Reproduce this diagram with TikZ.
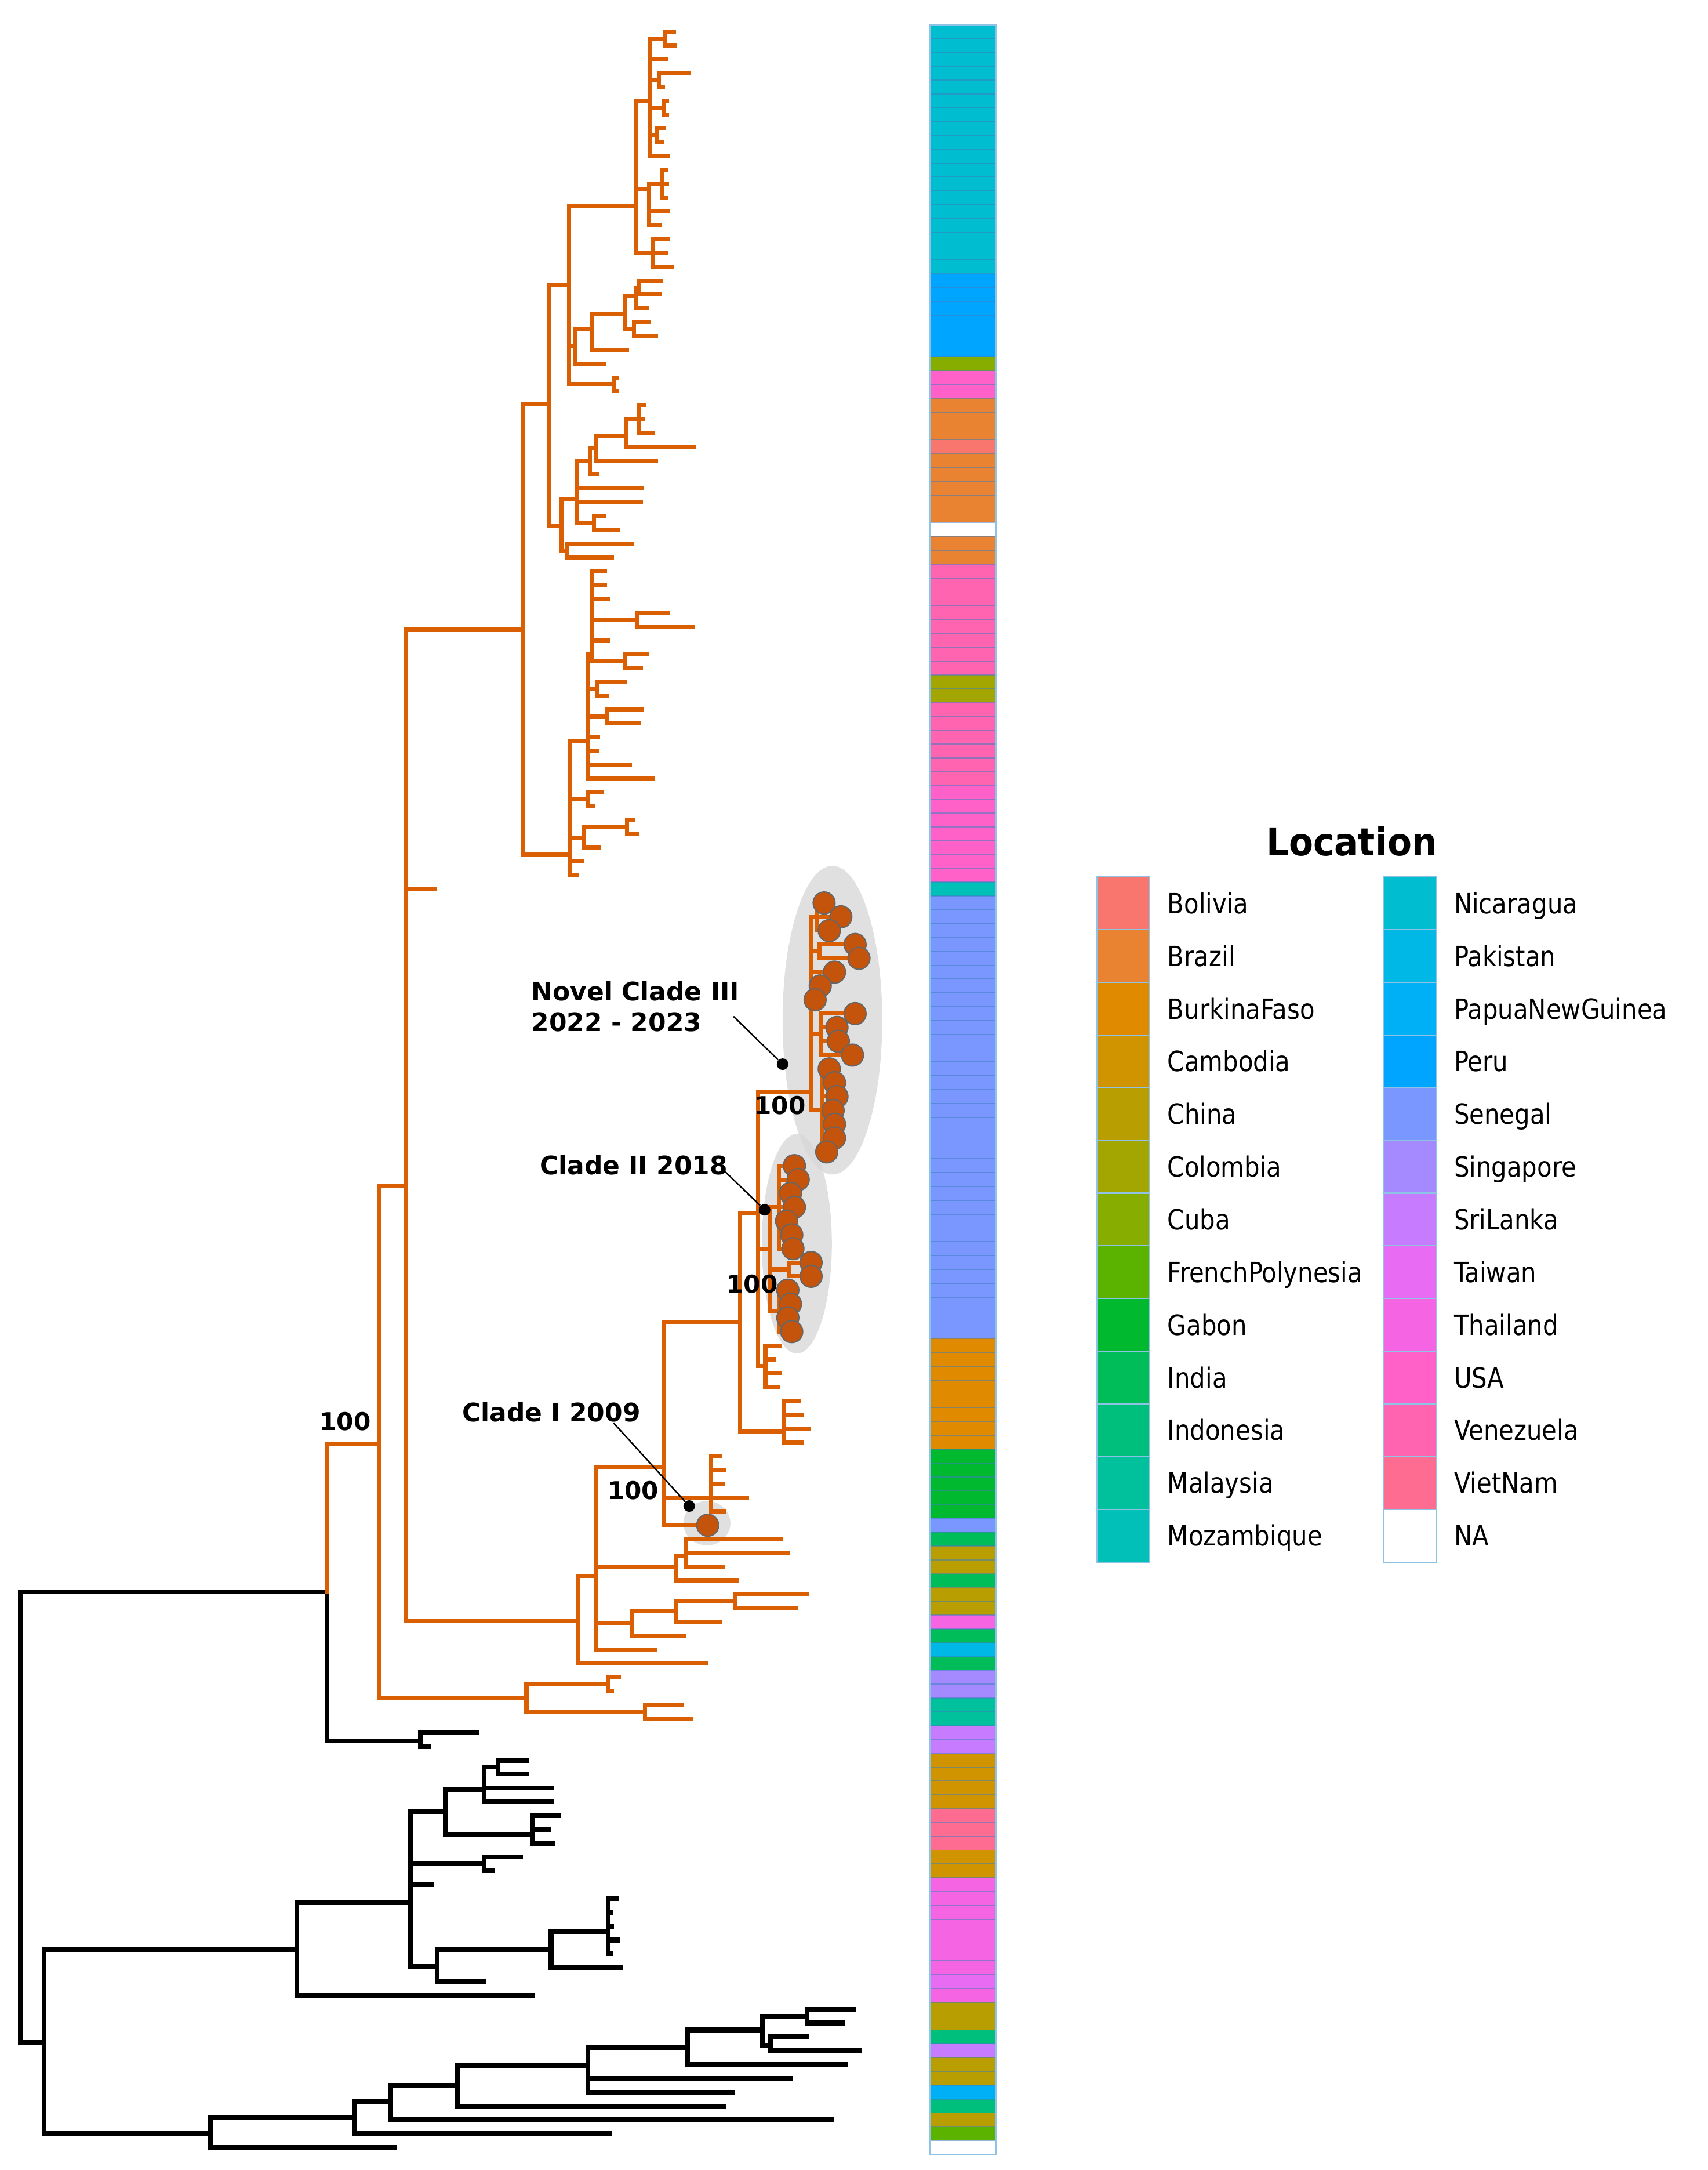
\documentclass[tikz,border=0pt]{standalone}
\usepackage{fontspec}
\setmainfont{DejaVu Sans}
\usetikzlibrary{positioning}

\definecolor{cBolivia}{HTML}{F8766D}
\definecolor{cBrazil}{HTML}{EA8331}
\definecolor{cBurkinaFaso}{HTML}{E08A00}
\definecolor{cCambodia}{HTML}{CF9400}
\definecolor{cChina}{HTML}{B89E00}
\definecolor{cColombia}{HTML}{A3A500}
\definecolor{cCuba}{HTML}{86AD00}
\definecolor{cFrenchPolynesia}{HTML}{5BB300}
\definecolor{cGabon}{HTML}{00B92E}
\definecolor{cIndia}{HTML}{00BC59}
\definecolor{cIndonesia}{HTML}{00BF7D}
\definecolor{cMalaysia}{HTML}{00C19C}
\definecolor{cMozambique}{HTML}{00C0B8}
\definecolor{cNicaragua}{HTML}{00BDD0}
\definecolor{cPakistan}{HTML}{00B8E5}
\definecolor{cPapuaNewGuinea}{HTML}{00B0F6}
\definecolor{cPeru}{HTML}{00A5FF}
\definecolor{cSenegal}{HTML}{7997FF}
\definecolor{cSingapore}{HTML}{A58AFF}
\definecolor{cSriLanka}{HTML}{C77CFF}
\definecolor{cTaiwan}{HTML}{E76BF3}
\definecolor{cThailand}{HTML}{F564E3}
\definecolor{cUSA}{HTML}{FF61C9}
\definecolor{cVenezuela}{HTML}{FF64B0}
\definecolor{cVietNam}{HTML}{FF6C91}
\definecolor{cNA}{HTML}{FFFFFF}
\definecolor{branch}{HTML}{D95F02}
\definecolor{tipfill}{HTML}{C4540C}
\definecolor{rowline}{HTML}{3F7FC0}
\definecolor{frameblue}{HTML}{8FC3E6}

% one internal node: x, row, list of child x/row
\newcommand{\clade}[3]{\foreach \cx/\cr in {#3}{\draw (#1,#2) |- (\cx,\cr);}}

\begin{document}
\begin{tikzpicture}[x=0.2387mm, y=-0.2387mm,
    rowgrid/.style={y=-2.3844mm, yshift=-5.490mm},
    orangebranch/.style={branch, line width=2pt, line cap=rect},
    blackbranch/.style={black, line width=2.3pt, line cap=rect},
    cladeshade/.style={fill=black!16, fill opacity=0.75},
    tipdot/.style={fill=tipfill, draw=black!60, line width=0.6pt},
    rowsep/.style={draw=rowline, draw opacity=0.55, line width=0.5pt},
    pointer/.style={draw=black, line width=0.7pt},
    knot/.style={circle, fill=black, inner sep=0pt, minimum size=2mm},
    cladelabel/.style={font=\bfseries\fontsize{12.5}{15}\selectfont, inner sep=0pt, anchor=base west},
    support/.style={font=\bfseries\fontsize{12}{14}\selectfont, inner sep=0pt, anchor=base},
    legbox/.style={draw=frameblue, line width=0.6pt, minimum width=9.07mm, minimum height=9.09mm, inner sep=0pt},
    leglabel/.style={font=\fontsize{11.9}{14}\selectfont, inner sep=0pt, anchor=west, text height=8.68pt, text depth=0pt, transform shape, yscale=1.15}]
    \useasboundingbox (0,0) rectangle (1234.2,1567.7);

    %Clade shading
    \fill[cladeshade] (601.5,737) ellipse [x radius=36, y radius=111.5];
    \fill[cladeshade] (575.8,898.5) ellipse [x radius=25.3, y radius=79.3];
    \fill[cladeshade] (510.8,1100.4) ellipse [x radius=17, y radius=16];

    \begin{scope}[rowgrid]
    %Strip
    \foreach \c/\a/\b in {Nicaragua/0/18, Peru/18/24, Cuba/24/25, USA/25/27, Brazil/27/30, Bolivia/30/31,
        Brazil/31/36, NA/36/37, Brazil/37/39, Venezuela/39/47, Colombia/47/49, Venezuela/49/55, USA/55/62,
        Mozambique/62/63, Senegal/63/95, BurkinaFaso/95/103, Gabon/103/108, Senegal/108/109, India/109/110,
        China/110/112, India/112/113, China/113/115, Thailand/115/116, India/116/117, Pakistan/117/118,
        India/118/119, Singapore/119/121, Malaysia/121/123, SriLanka/123/125, Cambodia/125/129,
        VietNam/129/132, Cambodia/132/134, Thailand/134/141, Taiwan/141/142, Thailand/142/143,
        China/143/145, Indonesia/145/146, SriLanka/146/147, China/147/149, PapuaNewGuinea/149/150,
        Indonesia/150/151, China/151/152, FrenchPolynesia/152/153, NA/153/154}
        {\fill[c\c] (672,\a-0.5) rectangle (720,\b-0.5);}
    \foreach \i in {1,...,153} \draw[rowsep] (672,\i-0.5) -- (720,\i-0.5);
    \draw[frameblue, line width=0.8pt] (672,-0.5) rectangle (720,153.5);

    %Outgroup
    \begin{scope}[blackbranch]
    \draw (14.5,129) |- (236.3,112.8);
    \draw (14.5,129) |- (32,145.4);
    \clade{236.3}{112.8}{303.7/123.6}
    \clade{303.7}{123.6}{344.8/123, 310/124}
    \clade{32}{145.4}{214.4/138.7, 152.3/152}
    \clade{214.4}{138.7}{296.8/135.3, 385/142}
    \clade{296.8}{135.3}{321.8/128.7, 349.7/132.5, 311.5/134, 316/139.9}
    \clade{321.8}{128.7}{349.7/127.1, 385/130.4}
    \clade{349.7}{127.1}{360/125.5, 398.2/127, 398.2/128}
    \clade{360}{125.5}{380.6/125, 380.6/126}
    \clade{385}{130.4}{404/129, 396.7/130, 399.7/131}
    \clade{349.7}{132.5}{376.2/132, 355.6/133}
    \clade{316}{139.9}{398.2/138.7, 349.7/141}
    \clade{398.2}{138.7}{439.4/137.4, 448.2/140}
    \clade{439.4}{137.4}{445.2/135, 441/136, 442/137, 446.7/138, 441/139}
    \clade{152.3}{152}{256.5/150.8, 285.3/153}
    \clade{256.5}{150.8}{282.5/149.7, 440.8/152}
    \clade{282.5}{149.7}{330.6/148.5, 601.2/151}
    \clade{330.6}{148.5}{424.8/147.1, 523/150}
    \clade{424.8}{147.1}{497/145.8, 571/148, 529/149}
    \clade{497}{145.8}{551/144.5, 611/147}
    \clade{551}{144.5}{583/143.5, 557/145.6}
    \clade{583}{143.5}{617/143, 609/144}
    \clade{557}{145.6}{583/145, 621/146}
    \end{scope}

    %Ingroup
    \begin{scope}[orangebranch]
    \draw (236.3,112.8) |- (273.6,102.1);
    \clade{273.6}{102.1}{293.6/83.5, 380.4/120.5}
    \clade{293.6}{83.5}{378/43.2, 314/62, 417.9/114.9}
    \clade{378}{43.2}{397/26.9, 411.9/59.5}
    \clade{397}{26.9}{411.3/18.3, 405.6/35.75}
    % Nicaragua, Peru
    \clade{411.3}{18.3}{459.5/12.6, 415.4/22.7, 444/25.5}
    \clade{459.5}{12.6}{470/5, 469/11.4, 472/16}
    \clade{470}{5}{480.5/0.5, 481.5/2, 476/3.5, 480/5.5, 474.7/7.5, 483/9}
    \clade{480.5}{0.5}{487/0, 487.5/1}
    \clade{476}{3.5}{498/3, 479/4}
    \clade{480}{5.5}{482/5, 482/6}
    \clade{474.7}{7.5}{480/7, 478.6/8}
    \clade{469}{11.4}{478.7/11, 483/13, 477/14}
    \clade{478.7}{11}{481/10, 482/11, 481/12}
    \clade{472}{16}{482.5/15, 481.5/16, 485.5/17}
    \clade{415.4}{22.7}{428/21.5, 436.4/24}
    \clade{428}{21.5}{451.7/20.4, 453/23}
    \clade{451.7}{20.4}{459.5/19.1, 458/21.5}
    \clade{459.5}{19.1}{462/18.5, 467.8/20}
    \clade{462}{18.5}{477.6/18, 476.9/19}
    \clade{458}{21.5}{468.5/21, 474/22}
    \clade{444}{25.5}{446/25, 446/26}
    % Brazil, Bolivia
    \clade{405.6}{35.75}{416.8/33.8, 409.8/37.5}
    \clade{416.8}{33.8}{426.3/31, 464/33, 463/34, 429.4/35.5}
    \clade{426.3}{31}{430.8/30.1, 431.5/32}
    \clade{430.8}{30.1}{452.4/29.2, 474/31}
    \clade{452.4}{29.2}{461.5/28, 501.3/30}
    \clade{461.5}{28}{465.7/27, 464.2/28, 472/29}
    \clade{429.4}{35.5}{436.4/35, 446.9/36}
    \clade{409.8}{37.5}{456.7/37, 442/38}
    % Venezuela, Colombia, USA
    \clade{411.9}{59.5}{425.2/51.3, 425.2/55.5, 421.7/58.3, 420.3/60, 416.8/61}
    \clade{425.2}{51.3}{428/45, 431.5/47.5, 439/49.5, 432.2/51, 431.5/52, 455.2/53, 472/54}
    \clade{428}{45}{437/39, 437/40, 439.1/41, 460.8/42.5, 439.1/44, 451.3/45.5}
    \clade{460.8}{42.5}{482.5/42, 500.6/43}
    \clade{451.3}{45.5}{467.8/45, 463/46}
    \clade{431.5}{47.5}{451.7/47, 439/48}
    \clade{439}{49.5}{463.6/49, 462/50}
    \clade{425.2}{55.5}{434.9/55, 428.6/56}
    \clade{421.7}{58.3}{453.1/57.5, 432.9/59}
    \clade{453.1}{57.5}{457.3/57, 460.8/58}
    % Senegal and the rest
    \clade{417.9}{114.9}{430.5/111.7, 510/118}
    \clade{430.5}{111.7}{479.3/103.8, 488.7/111, 456.6/115.1, 473.8/117}
    \clade{479.3}{103.8}{534.6/93.3, 514/106, 511.4/108}
    \clade{534.6}{93.3}{547.8/85.4, 566/101.2}
    \clade{547.8}{85.4}{586.1/76.7, 556/88, 553/96.5}
    \clade{586.1}{76.7}{590/64, 592/66.5, 603/68, 592.7/69, 589/70, 593/72.5, 594/78}
    \clade{590}{64}{595.5/63, 607.6/64, 599.2/65}
    \clade{592}{66.5}{617.9/66, 620.7/67}
    \clade{593}{72.5}{617.9/71, 604.8/72, 605.8/73, 616/74}
    \clade{594}{78}{599.2/75, 603/76, 604.8/77, 602/78, 603/79, 603/80, 597.4/81}
    \clade{556}{88}{563/85, 570/89.5, 563/92.5}
    \clade{563}{85}{574/82, 576.8/83, 571.2/84, 574/85, 568.4/86, 572.1/87, 573/88}
    \clade{570}{89.5}{586.1/89, 586.1/90}
    \clade{563}{92.5}{569.3/91, 571.2/92, 569.3/93, 572.1/94}
    \clade{553}{96.5}{563.7/95, 559/96, 563.7/97, 561.8/98}
    \clade{566}{101.2}{577/99, 579.4/100, 584.8/101, 579.4/102}
    \clade{514}{106}{520.7/103, 523.5/104, 522/105, 539.6/106, 523.5/107}
    \clade{488.7}{111}{495.4/110.2, 532.8/112}
    \clade{495.4}{110.2}{564.7/109, 569/110, 522/111}
    \clade{456.6}{115.1}{488.7/114.2, 494/116}
    \clade{488.7}{114.2}{531.5/113.5, 520.7/115}
    \clade{531.5}{113.5}{583.5/113, 575.5/114}
    \clade{380.4}{120.5}{439.3/119.5, 465.9/121.5}
    \clade{439.3}{119.5}{447.3/119, 442/120}
    \clade{465.9}{121.5}{492.7/121, 499.4/122}
    \end{scope}

    %Tip points
    \foreach \cx/\cr in {595.5/63, 607.6/64, 599.2/65, 617.9/66, 620.7/67, 603/68, 592.7/69, 589/70,
        617.9/71, 604.8/72, 605.8/73, 616/74, 599.2/75, 603/76, 604.8/77, 602/78, 603/79, 603/80, 597.4/81,
        574/82, 576.8/83, 571.2/84, 574/85, 568.4/86, 572.1/87, 573/88, 586.1/89, 586.1/90,
        569.3/91, 571.2/92, 569.3/93, 572.1/94, 511.4/108}
        \draw[tipdot] (\cx,\cr) circle [radius=1.9mm];
    \end{scope}

    %Clade labels
    \node[knot] (cl3dot) at (565.5,768.8) {};
    \node[knot] (cl2dot) at (552.5,874) {};
    \node[knot] (cl1dot) at (498,1088) {};
    \coordinate (cl3tail) at (530,734.3);
    \coordinate (cl2tail) at (523.5,846);
    \coordinate (cl1tail) at (443.3,1027.9);
    \draw[pointer] (cl3tail) -- (cl3dot);
    \draw[pointer] (cl2tail) -- (cl2dot);
    \draw[pointer] (cl1tail) -- (cl1dot);
    \node[cladelabel] (cl3name) at (383.8,723) {Novel Clade III};
    \node[cladelabel] (cl3years) at (383.8,744.9) {2022 - 2023};
    \node[cladelabel] (cl2name) at (389.8,848.7) {Clade II 2018};
    \node[cladelabel] (cl1name) at (333.7,1027) {Clade I 2009};
    \node[support] (bsroot) at (249.5,1033.5) {100};
    \node[support] (bscl3) at (563.7,805) {100};
    \node[support] (bscl2) at (543.5,934) {100};
    \node[support] (bscl1) at (457.5,1083) {100};

    %Legend
    \node[font=\bfseries\fontsize{17.4}{20}\selectfont, inner sep=0pt, anchor=base, transform shape, yscale=1.08] (legtitle) at (976.8,618.2) {Location};
    \foreach \place [count=\k from 0] in {Bolivia, Brazil, BurkinaFaso, Cambodia, China, Colombia, Cuba,
        FrenchPolynesia, Gabon, India, Indonesia, Malaysia, Mozambique}{
        \node[legbox, fill=c\place] (box-\place) at (811.6,{652.6+38.07*\k}) {};
        \node[leglabel, right=2.96mm of box-\place] (lab-\place) {\place};
    }
    \foreach \place [count=\k from 0] in {Nicaragua, Pakistan, PapuaNewGuinea, Peru, Senegal, Singapore,
        SriLanka, Taiwan, Thailand, USA, Venezuela, VietNam, NA}{
        \node[legbox, fill=c\place] (box-\place) at (1018.6,{652.6+38.07*\k}) {};
        \node[leglabel, right=2.96mm of box-\place] (lab-\place) {\place};
    }

\end{tikzpicture}
\end{document}
